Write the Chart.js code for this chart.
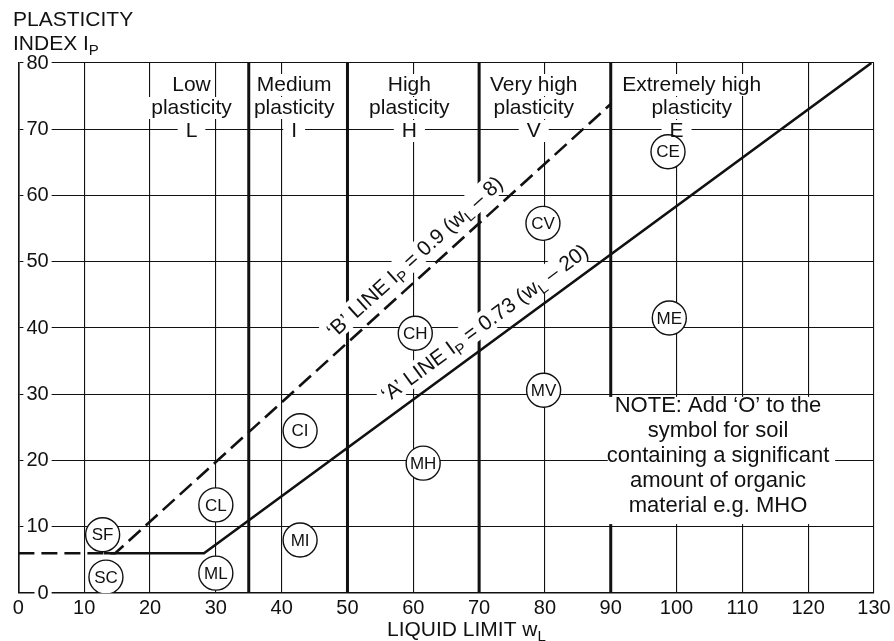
<!DOCTYPE html>
<html>
<head>
<meta charset="utf-8">
<script src="https://cdn.jsdelivr.net/npm/chart.js@4.4.1/dist/chart.umd.min.js"></script>
<style>
  html, body { margin: 0; padding: 0; background: #fff; }
  #wrap { position: relative; width: 894px; height: 641px; }
</style>
</head>
<body>
<div id="wrap"><canvas id="chart"></canvas></div>
<script>
// soil group symbols and where their circles sit (liquid limit, plasticity index)
const groupNames = ['SF', 'SC', 'CL', 'ML', 'CI', 'MI', 'CH', 'MH', 'CV', 'MV', 'CE', 'ME'];
const groupLL = [12.8, 13.3, 30, 30, 42.8, 42.8, 60.3, 61.5, 79.7, 79.8, 98.7, 98.9];
const groupPI = [8.8, 2.4, 13.3, 3.0, 24.5, 8.0, 39.2, 19.6, 55.8, 30.6, 66.6, 41.5];

// 'A' line (solid) and 'B' line (dashed)
const aLineLL = [13, 28.2, 129.6];
const aLinePI = [6, 6, 80];
const bLineLL = [0, 14.7, 90];
const bLinePI = [6, 6, 73.8];

// plasticity zones
const zoneEdges = [35, 50, 70, 90];
const zoneTitles = [['Low', 'plasticity'], ['Medium', 'plasticity'], ['High', 'plasticity'],
  ['Very high', 'plasticity'], ['Extremely high', 'plasticity']];
const zoneLetters = ['L', 'I', 'H', 'V', 'E'];
const zoneTitleLL = [26.3, 41.9, 59.4, 78.3, 102.3];
const zoneLetterLL = [26.3, 41.9, 59.4, 78.3, 100];

const noteLines = ['NOTE: Add \u2018O\u2019 to the', 'symbol for soil', 'containing a significant',
  'amount of organic', 'material e.g. MHO'];

const FONT = '"Liberation Sans", Arial, Helvetica, sans-serif';
const INK = '#111';

// text made of [string, isSubscript] parts
function richWidth(ctx, parts, size) {
  let w = 0;
  parts.forEach(([t, sub]) => {
    ctx.font = (sub ? Math.round(size * 0.7) : size) + 'px ' + FONT;
    w += ctx.measureText(t).width;
  });
  return w;
}
function drawRich(ctx, parts, x, y, size) {
  // x = left edge, y = alphabetic baseline
  parts.forEach(([t, sub]) => {
    ctx.font = (sub ? Math.round(size * 0.7) : size) + 'px ' + FONT;
    ctx.fillText(t, x, sub ? y + size * 0.22 : y);
    x += ctx.measureText(t).width;
  });
}

function lineLabel(chart, lx, ly, atLL, parts, offset, size) {
  const { ctx, scales: { x, y } } = chart;
  const n = lx.length;
  const x1 = lx[n - 2], y1 = ly[n - 2], x2 = lx[n - 1], y2 = ly[n - 1];
  const px1 = x.getPixelForValue(x1), py1 = y.getPixelForValue(y1);
  const px2 = x.getPixelForValue(x2), py2 = y.getPixelForValue(y2);
  const ang = Math.atan2(py2 - py1, px2 - px1);
  const atPI = y1 + (atLL - x1) * (y2 - y1) / (x2 - x1);
  const w = richWidth(ctx, parts, size);
  ctx.save();
  ctx.translate(x.getPixelForValue(atLL), y.getPixelForValue(atPI));
  ctx.rotate(ang);
  ctx.translate(0, -offset);
  ctx.fillStyle = '#fff';
  ctx.fillRect(-w / 2 - 4, -size * 0.55, w + 8, size * 1.1);
  ctx.fillStyle = INK;
  ctx.textBaseline = 'alphabetic';
  ctx.textAlign = 'left';
  drawRich(ctx, parts, -w / 2, size * 0.36, size);
  ctx.restore();
}

const labelPlugin = {
  id: 'plasticityLabels',
  beforeDatasetsDraw(chart) {
    // white patches behind the zone names so the thin grid breaks around them
    const { ctx, chartArea, scales: { x } } = chart;
    ctx.save();
    ctx.font = '21px ' + FONT;
    ctx.fillStyle = '#fff';
    zoneTitles.forEach((lines, i) => {
      const cx = x.getPixelForValue(zoneTitleLL[i]);
      lines.forEach((t, j) => {
        const w = ctx.measureText(t).width;
        ctx.fillRect(cx - w / 2 - 4, chartArea.top + 22 + j * 23 - 11, w + 8, 22);
      });
      const lx = x.getPixelForValue(zoneLetterLL[i]);
      const lw = ctx.measureText(zoneLetters[i]).width;
      ctx.fillRect(lx - lw / 2 - 8, chartArea.top + 68 - 11, lw + 16, 22);
    });
    ctx.restore();
  },
  afterDatasetsDraw(chart) {
    const { ctx, chartArea, scales: { x, y } } = chart;
    ctx.save();

    // note box
    ctx.fillStyle = '#fff';
    const nx0 = x.getPixelForValue(90) - 3, nx1 = x.getPixelForValue(124.1);
    const ny0 = y.getPixelForValue(29.6), ny1 = y.getPixelForValue(10.4);
    ctx.fillRect(nx0, ny0, nx1 - nx0, ny1 - ny0);
    ctx.fillStyle = INK;
    ctx.font = '22px ' + FONT;
    ctx.textAlign = 'center';
    ctx.textBaseline = 'middle';
    const ncx = x.getPixelForValue(106.3);
    noteLines.forEach((t, i) => ctx.fillText(t, ncx, y.getPixelForValue(28.2) + i * 25));

    // zone names
    ctx.font = '21px ' + FONT;
    zoneTitles.forEach((lines, i) => {
      const cx = x.getPixelForValue(zoneTitleLL[i]);
      lines.forEach((t, j) => ctx.fillText(t, cx, chartArea.top + 22 + j * 23));
      ctx.fillText(zoneLetters[i], x.getPixelForValue(zoneLetterLL[i]), chartArea.top + 68);
    });

    // group symbols inside circles
    ctx.font = '17px ' + FONT;
    groupNames.forEach((g, i) => {
      ctx.fillText(g, x.getPixelForValue(groupLL[i]), y.getPixelForValue(groupPI[i]) + 1);
    });
    ctx.restore();

    // sloping labels along the A and B lines
    lineLabel(chart, bLineLL, bLinePI, 62.1,
      [['\u2018B\u2019 LINE I'], ['P', true], [' = 0.9 (w'], ['L', true], [' \u2013 8)']], 19, 21);
    lineLabel(chart, aLineLL, aLinePI, 72.6,
      [['\u2018A\u2019 LINE I'], ['P', true], [' = 0.73 (w'], ['L', true], [' \u2013 20)']], 20, 21);
  },
  afterDraw(chart) {
    const { ctx, scales: { x } } = chart;
    ctx.save();
    ctx.fillStyle = INK;
    ctx.textAlign = 'left';
    ctx.textBaseline = 'alphabetic';
    drawRich(ctx, [['PLASTICITY']], 13, 26, 21);
    drawRich(ctx, [['INDEX I'], ['P', true]], 13, 50, 21);
    drawRich(ctx, [['LIQUID LIMIT w'], ['L', true]], x.getPixelForValue(56), 636, 21);
    ctx.restore();
  }
};

const datasets = [
  {
    label: 'groups',
    data: groupLL.map((v, i) => ({ x: v, y: groupPI[i] })),
    pointRadius: 17,
    pointBackgroundColor: '#fff',
    pointBorderColor: INK,
    pointBorderWidth: 1.4,
    showLine: false
  },
  {
    label: 'A line',
    data: aLineLL.map((v, i) => ({ x: v, y: aLinePI[i] })),
    showLine: true, borderColor: INK, borderWidth: 2.6, pointRadius: 0
  },
  {
    label: 'B line',
    data: bLineLL.map((v, i) => ({ x: v, y: bLinePI[i] })),
    showLine: true, borderColor: INK, borderWidth: 2.6, borderDash: [16, 7], pointRadius: 0
  }
];
zoneEdges.forEach(e => {
  datasets.push({
    label: 'zone ' + e,
    data: [{ x: e, y: 0 }, { x: e, y: 80 }],
    showLine: true, borderColor: INK, borderWidth: 3, pointRadius: 0
  });
});

const tickFont = { family: FONT, size: 20 };

new Chart(document.getElementById('chart'), {
  type: 'scatter',
  data: { datasets },
  options: {
    responsive: true,
    maintainAspectRatio: false,
    animation: false,
    layout: { padding: { top: 63, right: 20, left: 0, bottom: 0 } },
    plugins: { legend: { display: false }, tooltip: { enabled: false } },
    scales: {
      x: {
        type: 'linear', min: 0, max: 130,
        afterFit: s => { s.height = 48; },
        ticks: { stepSize: 10, color: INK, font: tickFont, padding: 3, maxRotation: 0, autoSkip: false },
        grid: { color: INK, lineWidth: 1.1, drawTicks: false },
        border: { color: INK, width: 1.6 }
      },
      y: {
        type: 'linear', min: 0, max: 80,
        afterFit: s => { s.width = 14; },
        ticks: {
          stepSize: 10, color: INK, font: tickFont, mirror: true, padding: 8, crossAlign: 'far', z: 1,
          showLabelBackdrop: true, backdropColor: '#fff',
          backdropPadding: { top: 0, bottom: 0, left: 3, right: 3 }
        },
        grid: { color: INK, lineWidth: 1.1, drawTicks: false },
        border: { color: INK, width: 1.6 }
      }
    }
  },
  plugins: [labelPlugin]
});
</script>
</body>
</html>
